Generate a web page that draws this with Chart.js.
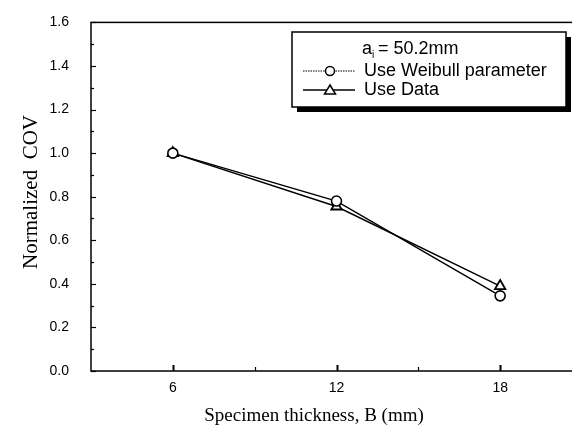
<!DOCTYPE html>
<html>
<head>
<meta charset="utf-8">
<script src="https://cdn.jsdelivr.net/npm/chart.js@4"></script>
<style>
  html, body { margin: 0; padding: 0; background: #fff; overflow: hidden; }
  #wrap { width: 572px; height: 432px; overflow: hidden; }
  #wrap canvas { display: block; }
</style>
</head>
<body>
<div id="wrap"><canvas id="cov-chart" width="600" height="432"></canvas></div>
<script>
const thickness = [6, 12, 18];
const covWeibull = [1.0, 0.78, 0.345];
const covData = [1.0, 0.755, 0.39];
const xTickLabels = [6, 12, 18];
const legendTitle = "a";
const legendSub = "i";
const legendTitleRest = " = 50.2mm";
const seriesNames = ["Use Weibull parameter", "Use Data"];

const sansFont = "'Liberation Sans', Arial, sans-serif";
const serifFont = "'Liberation Serif', 'Times New Roman', serif";

function toPoints(xs, ys) {
  return xs.map(function (x, i) {
    return { x: x, y: ys[i] };
  });
}

// frame, inward ticks, axis titles and the boxed legend
const framePlugin = {
  id: "frame",
  afterDraw: function (chart) {
    const ctx = chart.ctx;
    const area = chart.chartArea;
    const xs = chart.scales.x;
    const ys = chart.scales.y;

    ctx.save();
    ctx.strokeStyle = "#000";
    ctx.lineWidth = 1.5;
    ctx.strokeRect(area.left, area.top, area.right - area.left, area.bottom - area.top);

    // y ticks: major every 0.2, minor every 0.1
    ctx.lineWidth = 1.2;
    for (let v = 0; v <= 1.6001; v += 0.1) {
      const py = Math.round(ys.getPixelForValue(v)) + 0.5;
      const major = Math.round(v * 10) % 2 === 0;
      ctx.beginPath();
      ctx.moveTo(area.left, py);
      ctx.lineTo(area.left + (major ? 5 : 3), py);
      ctx.stroke();
    }
    // x ticks: major at labelled values, minor in between
    for (let v = 6; v <= 18; v += 3) {
      const px = Math.round(xs.getPixelForValue(v)) + 0.5;
      const major = xTickLabels.indexOf(v) !== -1;
      ctx.lineWidth = major ? 2 : 1.2;
      ctx.beginPath();
      ctx.moveTo(px, area.bottom);
      ctx.lineTo(px, area.bottom - (major ? 6 : 4));
      ctx.stroke();
    }

    // axis titles
    ctx.fillStyle = "#000";
    ctx.textAlign = "center";
    ctx.textBaseline = "middle";
    ctx.font = "19px " + serifFont;
    ctx.fillText("Specimen thickness, B (mm)", 314, 416);
    ctx.save();
    ctx.translate(31, 192);
    ctx.rotate(-Math.PI / 2);
    ctx.font = "21px " + serifFont;
    ctx.fillText("Normalized  COV", 0, 0);
    ctx.restore();

    // legend box with drop shadow
    const bx = 292, by = 32, bw = 274, bh = 75;
    ctx.fillStyle = "#000";
    ctx.fillRect(bx + 5, by + 5, bw, bh);
    ctx.fillStyle = "#fff";
    ctx.fillRect(bx, by, bw, bh);
    ctx.lineWidth = 1.5;
    ctx.strokeStyle = "#000";
    ctx.strokeRect(bx, by, bw, bh);

    ctx.fillStyle = "#000";
    ctx.textAlign = "left";
    ctx.textBaseline = "middle";
    ctx.font = "18px " + sansFont;
    ctx.fillText(legendTitle, 362, 49);
    const aw = ctx.measureText(legendTitle).width;
    ctx.font = "10px " + sansFont;
    ctx.fillText(legendSub, 362 + aw, 55);
    ctx.font = "18px " + sansFont;
    ctx.fillText(legendTitleRest, 362 + aw + 1, 49);

    // legend entries
    const rows = [71, 90];
    ctx.lineWidth = 1;
    ctx.setLineDash([1.5, 1]);
    ctx.beginPath();
    ctx.moveTo(303, rows[0]);
    ctx.lineTo(355, rows[0]);
    ctx.stroke();
    ctx.setLineDash([]);
    ctx.lineWidth = 1.4;
    ctx.beginPath();
    ctx.moveTo(303, rows[1]);
    ctx.lineTo(355, rows[1]);
    ctx.stroke();

    ctx.fillStyle = "#fff";
    ctx.lineWidth = 1.5;
    ctx.beginPath();
    ctx.arc(330, rows[0], 4.5, 0, Math.PI * 2);
    ctx.fill();
    ctx.stroke();
    ctx.beginPath();
    ctx.moveTo(330, rows[1] - 5);
    ctx.lineTo(335.5, rows[1] + 4);
    ctx.lineTo(324.5, rows[1] + 4);
    ctx.closePath();
    ctx.fill();
    ctx.stroke();

    ctx.fillStyle = "#000";
    ctx.font = "18px " + sansFont;
    ctx.fillText(seriesNames[0], 364, rows[0]);
    ctx.fillText(seriesNames[1], 364, rows[1]);
    ctx.restore();
  },
};

new Chart(document.getElementById("cov-chart"), {
  type: "line",
  data: {
    datasets: [
      {
        label: seriesNames[0],
        data: toPoints(thickness, covWeibull),
        borderColor: "#000",
        borderWidth: 1.4,
        pointStyle: "circle",
        pointRadius: 5,
        pointBorderWidth: 1.6,
        pointBackgroundColor: "#fff",
        pointBorderColor: "#000",
        tension: 0,
      },
      {
        label: seriesNames[1],
        data: toPoints(thickness, covData),
        borderColor: "#000",
        borderWidth: 1.4,
        pointStyle: "triangle",
        pointRadius: 6,
        pointBorderWidth: 1.8,
        pointBackgroundColor: "#fff",
        pointBorderColor: "#000",
        tension: 0,
      },
    ],
  },
  options: {
    responsive: false,
    animation: false,
    layout: { padding: { top: 18, right: 18, bottom: 0, left: 0 } },
    plugins: {
      legend: { display: false },
      tooltip: { enabled: false },
    },
    scales: {
      x: {
        type: "linear",
        min: 3,
        max: 21,
        afterFit: function (scale) {
          scale.height = 61;
        },
        grid: { display: false },
        border: { display: false },
        ticks: {
          stepSize: 3,
          padding: 1,
          color: "#000",
          font: { family: sansFont, size: 14 },
          callback: function (value) {
            return xTickLabels.indexOf(value) !== -1 ? String(value) : "";
          },
        },
      },
      y: {
        min: 0,
        max: 1.6,
        afterFit: function (scale) {
          scale.width = 91;
        },
        grid: { display: false },
        border: { display: false },
        ticks: {
          stepSize: 0.2,
          padding: 14,
          color: "#000",
          font: { family: sansFont, size: 14 },
          callback: function (value) {
            return Number(value).toFixed(1);
          },
        },
      },
    },
  },
  plugins: [framePlugin],
});
</script>
</body>
</html>
